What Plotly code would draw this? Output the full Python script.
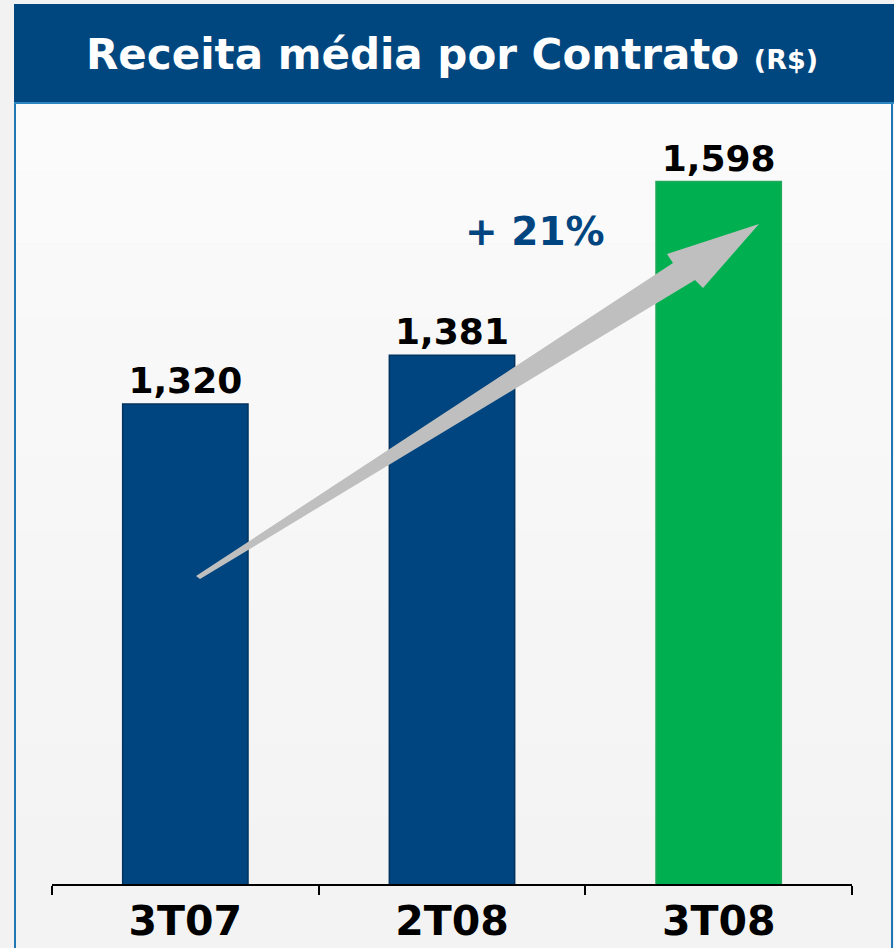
import plotly.graph_objects as go

# ---- data ----
categories = ["3T07", "2T08", "3T08"]
values = [1320, 1381, 1598]
bar_colors = ["#00457F", "#00457F", "#00B050"]
bar_lines = ["#00335F", "#00335F", "#22A85A"]
growth_label = "+ 21%"
title_main = "Receita média por Contrato"
title_unit = "(R$)"

W, H = 894, 948
L, R, T, B = 52, 42, 110, 64
PW, PH = W - L - R, H - T - B


def px(x):
    return (x - L) / PW


def py(y):
    return (H - B - y) / PH


FONT = "DejaVu Sans, Verdana, sans-serif"

fig = go.Figure()
fig.add_trace(go.Bar(
    x=categories, y=values,
    marker=dict(color=bar_colors, line=dict(color=bar_lines, width=1.5)),
    text=[f"{v:,}" for v in values],
    textposition="outside",
    textfont=dict(family=FONT, size=36, color="#000000", weight="bold"),
    constraintext="none",
    cliponaxis=False,
    width=0.47,
))

shapes = []
# background frame (approximate vertical gradient in bands)
n = 12
top_y, bot_y = 100, 960
for i in range(n):
    y0 = top_y + (bot_y - top_y) * i / n
    y1 = top_y + (bot_y - top_y) * (i + 1) / n
    c = int(251 - 8 * i / (n - 1))
    shapes.append(dict(type="rect", xref="paper", yref="paper",
                       x0=px(15), x1=px(892), y0=py(y1), y1=py(y0),
                       fillcolor=f"rgb({c},{c},{c})", line=dict(width=0), layer="below"))
for xx in (15, 892):
    shapes.append(dict(type="line", xref="paper", yref="paper",
                       x0=px(xx), x1=px(xx), y0=py(100), y1=py(960),
                       line=dict(color="#1F78B4", width=2), layer="below"))
# banner
shapes.append(dict(type="rect", xref="paper", yref="paper",
                   x0=px(14), x1=px(900), y0=py(102), y1=py(4),
                   fillcolor="#01477F", line=dict(width=0), layer="below"))
shapes.append(dict(type="line", xref="paper", yref="paper",
                   x0=px(14), x1=px(900), y0=py(103), y1=py(103),
                   line=dict(color="#2E86C1", width=2), layer="below"))

# growth arrow (tapered)
pts = [(196, 576), (673, 263), (667, 254), (759, 224), (703, 288), (695, 280), (200, 579)]
path = "M " + " L ".join(f"{px(x):.5f},{py(y):.5f}" for x, y in pts) + " Z"
shapes.append(dict(type="path", xref="paper", yref="paper", path=path,
                   fillcolor="#BFBFBF", line=dict(width=0), layer="above"))

annotations = [
    dict(xref="paper", yref="paper", x=px(452), y=py(55), xanchor="center", yanchor="middle",
         showarrow=False,
         text=f"{title_main} <span style='font-size:27px'>{title_unit}</span>",
         font=dict(family=FONT, size=42, color="#FFFFFF", weight="bold")),
    dict(xref="paper", yref="paper", x=px(535), y=py(231), xanchor="center", yanchor="middle",
         showarrow=False, text=growth_label,
         font=dict(family=FONT, size=39, color="#00457F", weight="bold")),
]

fig.update_layout(
    width=W, height=H,
    margin=dict(l=L, r=R, t=T, b=B, pad=0, autoexpand=False),
    paper_bgcolor="#F2F2F2",
    plot_bgcolor="rgba(0,0,0,0)",
    shapes=shapes,
    annotations=annotations,
    showlegend=False,
    xaxis=dict(
        automargin=False,
        showline=True, linecolor="#000000", linewidth=2,
        ticks="outside", tickson="boundaries", ticklen=9, tickwidth=2, tickcolor="#000000",
        tickfont=dict(family=FONT, size=41, color="#000000", weight="bold"),
        showgrid=False, fixedrange=True,
    ),
    yaxis=dict(visible=False, automargin=False, range=[720, 1687.5], fixedrange=True),
)

fig.write_html("out.html", config={"displayModeBar": False},
               post_script="document.body.style.margin='0';document.body.style.overflow='hidden';")
